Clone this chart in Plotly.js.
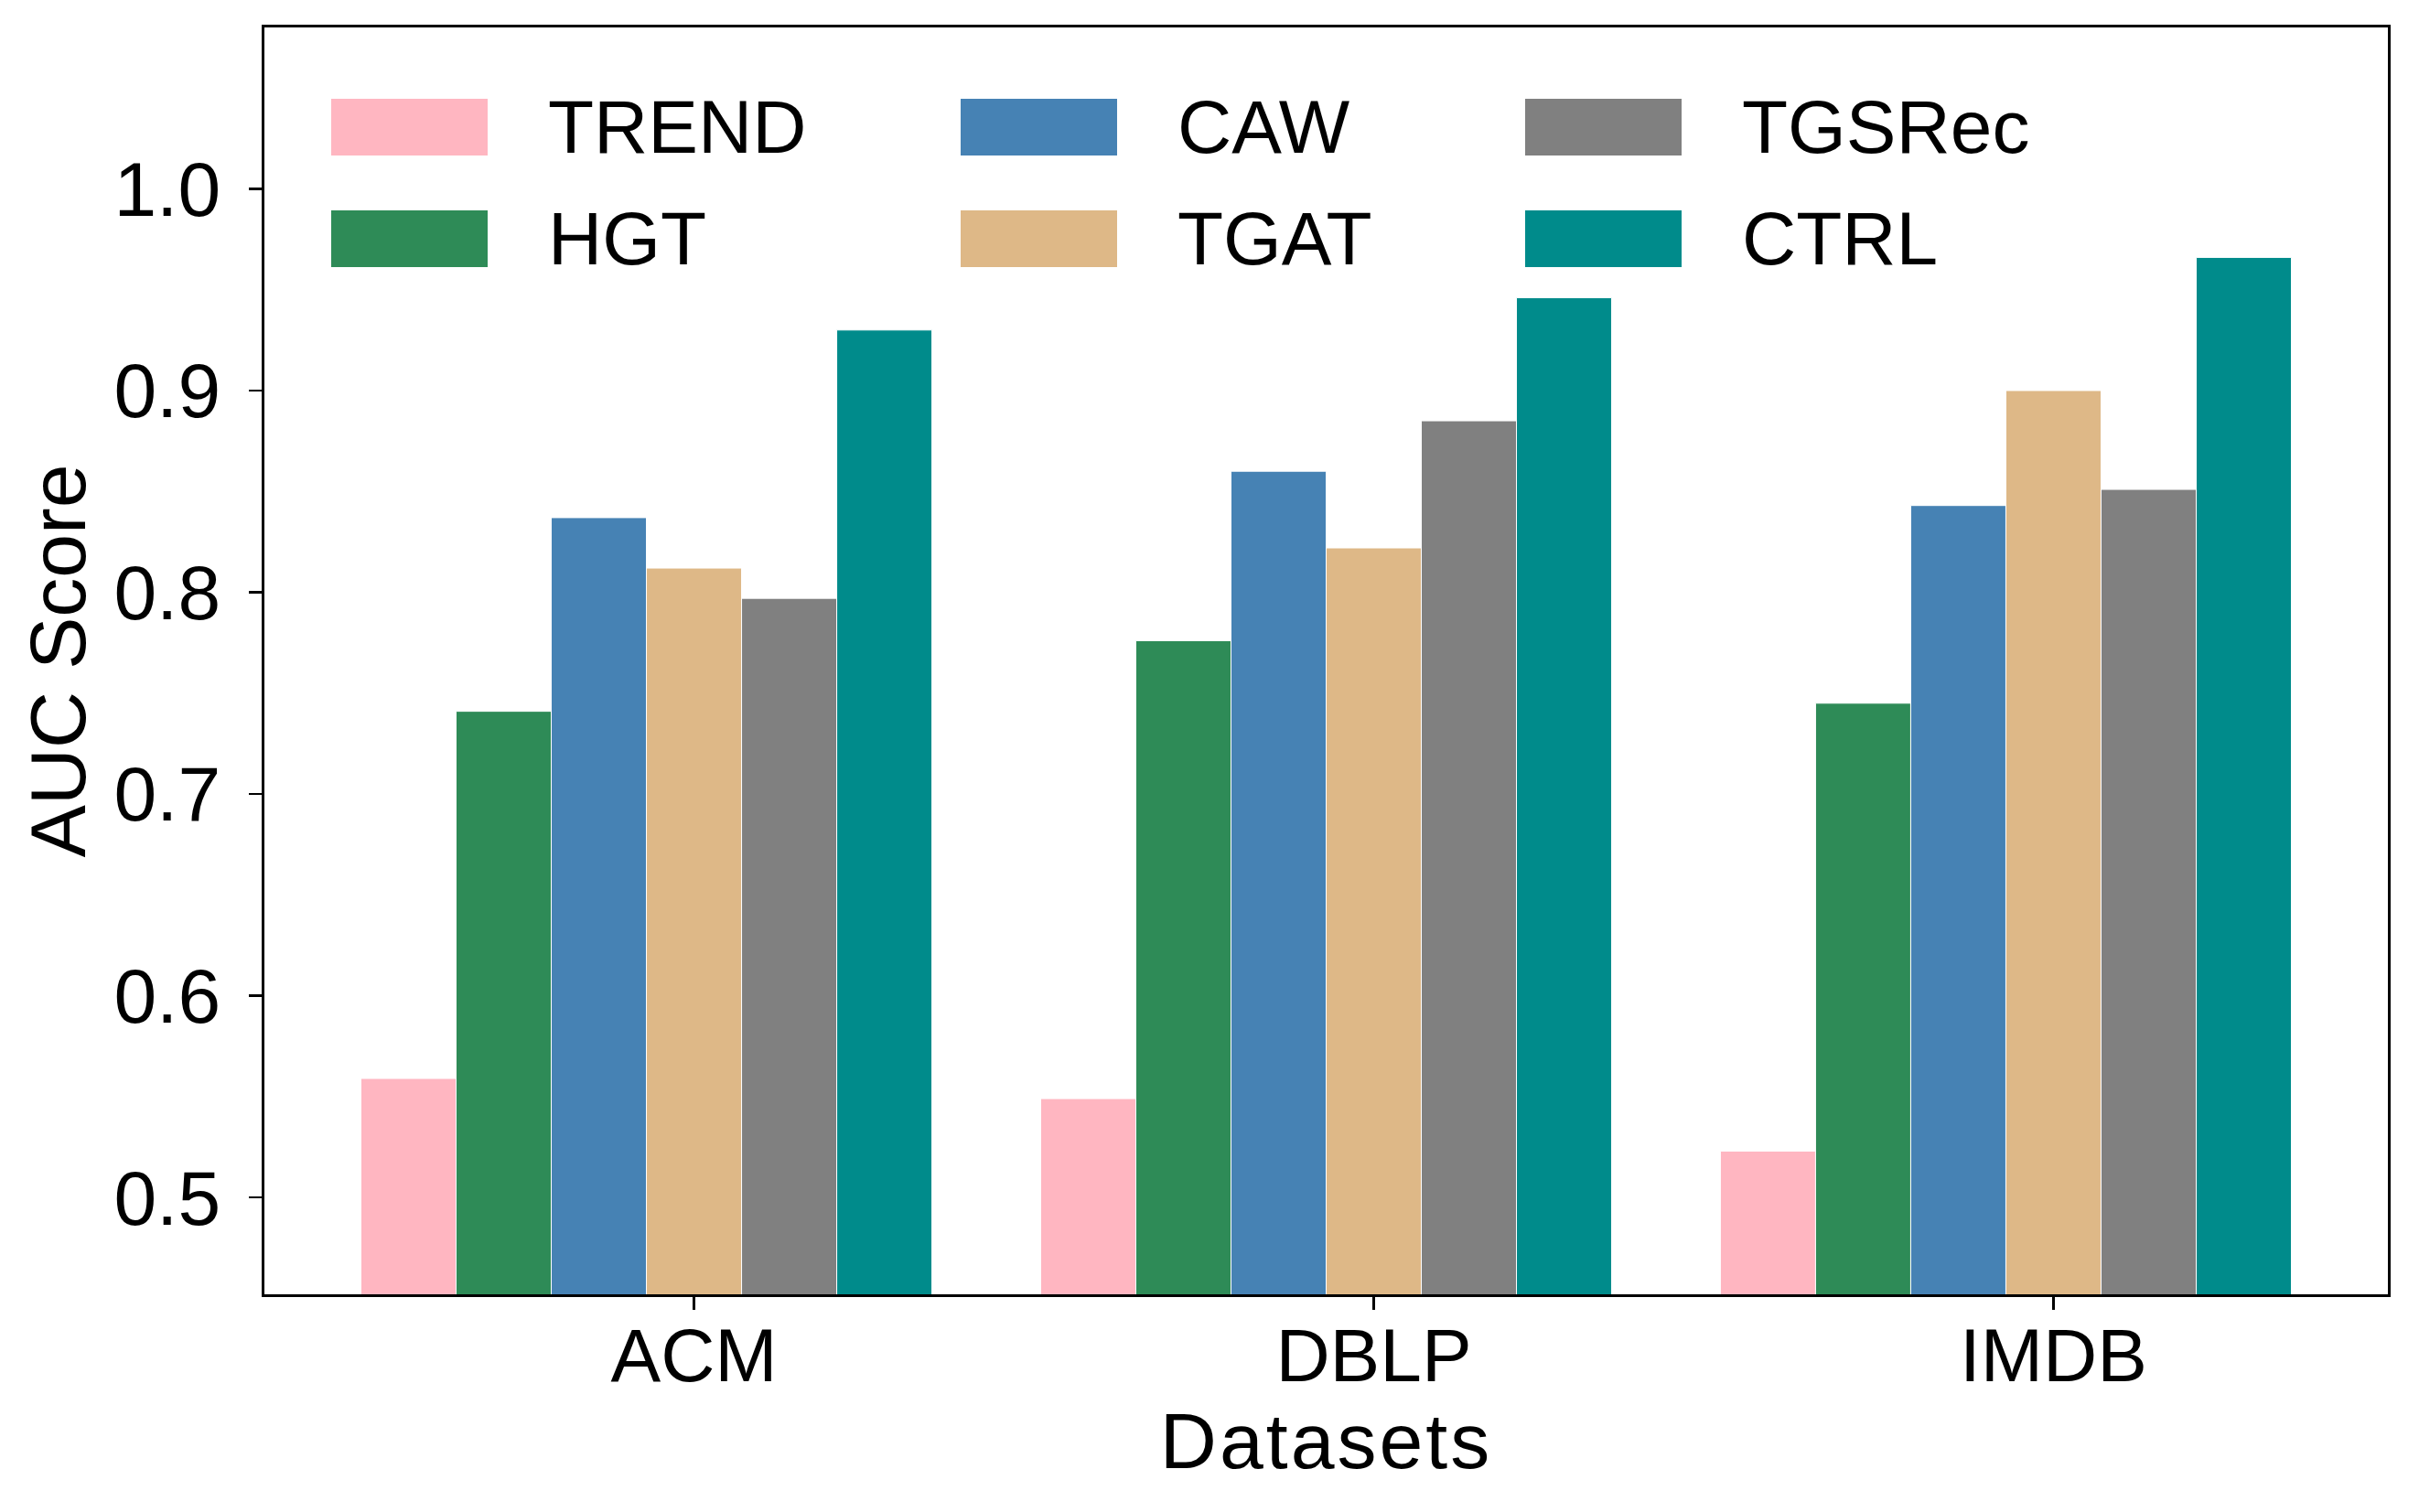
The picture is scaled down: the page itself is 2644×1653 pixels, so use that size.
<!DOCTYPE html>
<html>
<head>
<meta charset="utf-8">
<script src="https://cdn.plot.ly/plotly-3.0.1.min.js"></script>
<style>
  html, body { margin: 0; padding: 0; background: #ffffff; }
  #chart { width: 2644px; height: 1653px; }
  .xtitle { letter-spacing: 3px; }
</style>
</head>
<body>
<div id="chart"></div>
<script>
// ---- data ----
const datasets = ["ACM", "DBLP", "IMDB"];
const methods = ["TREND", "HGT", "CAW", "TGAT", "TGSRec", "CTRL"];
const TREND  = [0.559, 0.549, 0.523];
const HGT    = [0.741, 0.776, 0.745];
const CAW    = [0.837, 0.860, 0.843];
const TGAT   = [0.812, 0.822, 0.900];
const TGSRec = [0.797, 0.885, 0.851];
const CTRL   = [0.930, 0.946, 0.966];
const yTickVals = [0.5, 0.6, 0.7, 0.8, 0.9, 1.0];
const yTickText = ["0.5", "0.6", "0.7", "0.8", "0.9", "1.0"];

// ---- styles ----
const series = [TREND, HGT, CAW, TGAT, TGSRec, CTRL];
const colors = ["#FFB6C1", "#2E8B57", "#4682B4", "#DEB887", "#808080", "#008B8B"];
const FONT = "Liberation Sans, Arial, Helvetica, sans-serif";
const W = 2644, H = 1653;
const M = { l: 289, r: 34, t: 30, b: 238 };
const PW = W - M.l - M.r, PH = H - M.t - M.b;
const barW = 0.14;

const traces = series.map((vals, i) => ({
  type: "bar",
  name: methods[i],
  x: datasets,
  y: vals,
  width: barW,
  offset: (i - 3) * barW - barW / 2,
  marker: { color: colors[i], line: { color: "#ffffff", width: 1 } },
  showlegend: false,
  hoverinfo: "x+y+name"
}));

// custom legend (matplotlib-style large patches), 3 columns x 2 rows, column-major
const px2x = px => (px - M.l) / PW;
const px2y = py => (M.t + PH - py) / PH;
const colPatchX = [362, 1050, 1667];
const patchLen = 171;
const textGap = 64;
const rowPatchY = [[108, 170], [230, 292]];
const shapes = [];
const annotations = [];
methods.forEach((m, i) => {
  const col = Math.floor(i / 2), row = i % 2;
  const x0 = colPatchX[col], x1 = x0 + patchLen;
  const [y0, y1] = rowPatchY[row];
  shapes.push({
    type: "rect", xref: "paper", yref: "paper",
    x0: px2x(x0), x1: px2x(x1), y0: px2y(y1), y1: px2y(y0),
    fillcolor: colors[i], line: { width: 0 }, layer: "above"
  });
  annotations.push({
    xref: "paper", yref: "paper",
    x: px2x(x1 + textGap), y: px2y((y0 + y1) / 2 - 1),
    xanchor: "left", yanchor: "middle",
    text: m, showarrow: false,
    font: { family: FONT, size: 82, color: "#000000" }
  });
});

const layout = {
  width: W, height: H,
  margin: M,
  paper_bgcolor: "#ffffff",
  plot_bgcolor: "#ffffff",
  barmode: "overlay",
  font: { family: FONT, color: "#000000" },
  xaxis: {
    type: "category",
    range: [-0.632, 2.492],
    showgrid: false, zeroline: false,
    showline: true, linecolor: "#000000", linewidth: 3, mirror: true,
    ticks: "outside", ticklen: 14, tickwidth: 2.5, tickcolor: "#000000",
    tickfont: { family: FONT, size: 82, color: "#000000" },
    ticklabelstandoff: -20,
    title: { text: "Datasets", font: { family: FONT, size: 86, color: "#000000" }, standoff: 12 },
    automargin: false
  },
  yaxis: {
    range: [0.452, 1.08],
    tickvals: yTickVals, ticktext: yTickText,
    showgrid: false, zeroline: false,
    showline: true, linecolor: "#000000", linewidth: 3, mirror: true,
    ticks: "outside", ticklen: 14, tickwidth: 2.5, tickcolor: "#000000",
    tickfont: { family: FONT, size: 84, color: "#000000" },
    ticklabelstandoff: 14,
    title: { text: "AUC Score", font: { family: FONT, size: 86, color: "#000000" }, standoff: 3 },
    automargin: false
  },
  shapes: shapes,
  annotations: annotations,
  showlegend: false
};

Plotly.newPlot("chart", traces, layout, { displayModeBar: false, staticPlot: true });
</script>
</body>
</html>
